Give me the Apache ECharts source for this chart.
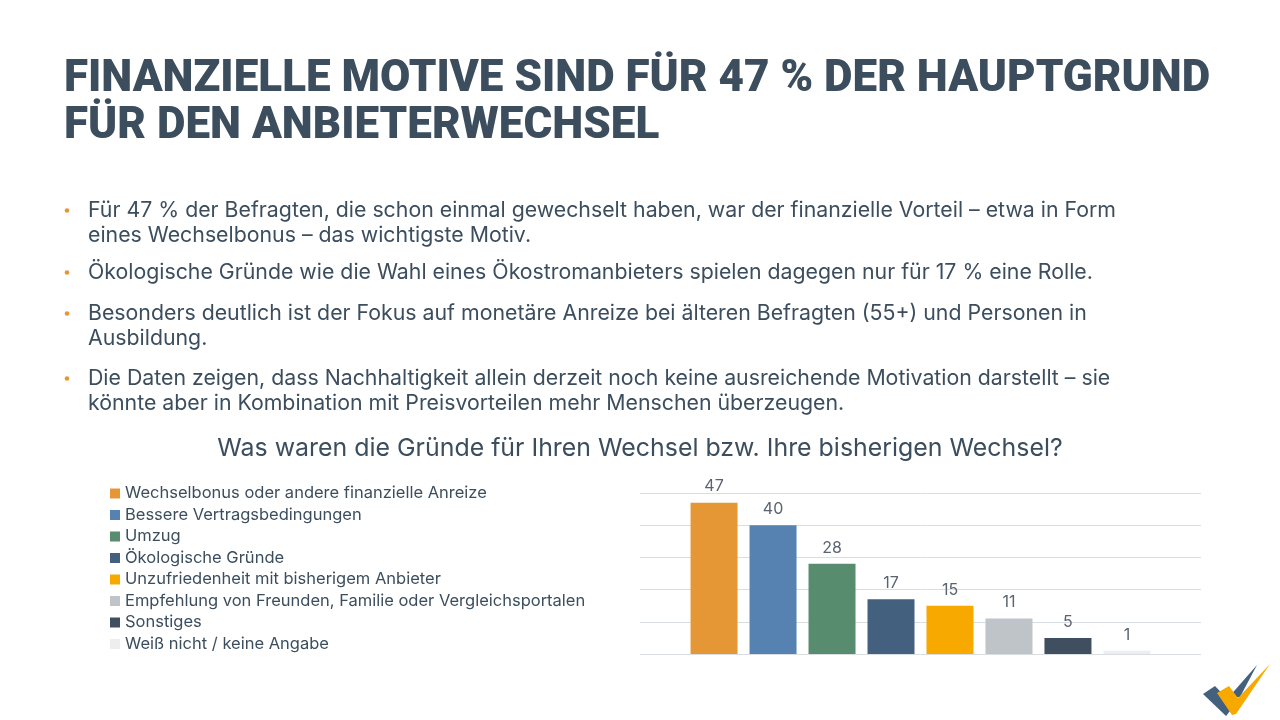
<!DOCTYPE html>
<html>
<head>
<meta charset="utf-8">
<script src="https://cdn.jsdelivr.net/npm/echarts@6/dist/echarts.min.js"></script>
<style>
  html, body { margin: 0; padding: 0; background: #fff; }
  #chart { width: 1280px; height: 720px; }
</style>
</head>
<body>
<div id="chart"></div>
<script>
// reasons for switching provider (share in %)
const reasons = [
  'Wechselbonus oder andere finanzielle Anreize',
  'Bessere Vertragsbedingungen',
  'Umzug',
  'Ökologische Gründe',
  'Unzufriedenheit mit bisherigem Anbieter',
  'Empfehlung von Freunden, Familie oder Vergleichsportalen',
  'Sonstiges',
  'Weiß nicht / keine Angabe'
];
const shares = [47, 40, 28, 17, 15, 11, 5, 1];

const titleText = 'FINANZIELLE MOTIVE SIND FÜR 47 % DER HAUPTGRUND\nFÜR DEN ANBIETERWECHSEL';
const question = 'Was waren die Gründe für Ihren Wechsel bzw. Ihre bisherigen Wechsel?';
const bullets = [
  'Für 47 % der Befragten, die schon einmal gewechselt haben, war der finanzielle Vorteil – etwa in Form\neines Wechselbonus – das wichtigste Motiv.',
  'Ökologische Gründe wie die Wahl eines Ökostromanbieters spielen dagegen nur für 17 % eine Rolle.',
  'Besonders deutlich ist der Fokus auf monetäre Anreize bei älteren Befragten (55+) und Personen in\nAusbildung.',
  'Die Daten zeigen, dass Nachhaltigkeit allein derzeit noch keine ausreichende Motivation darstellt – sie\nkönnte aber in Kombination mit Preisvorteilen mehr Menschen überzeugen.'
];

const palette = ['#E59735', '#5682B1', '#578D6E', '#44607F', '#F7A900', '#BFC4C9', '#3F4F5F', '#EEEEEE'];
const ink = '#3C4E5E';
const font = 'Inter';

const chart = echarts.init(document.getElementById('chart'));

// bullet list as graphic text
const bulletTops = [198, 260, 301, 366];
const bulletGraphics = [];
bullets.forEach((txt, i) => {
  bulletGraphics.push({
    type: 'circle',
    shape: { cx: 67, cy: bulletTops[i] + 12.5, r: 2.3 },
    style: { fill: '#E59735' }
  });
  bulletGraphics.push({
    type: 'text',
    left: 88,
    top: bulletTops[i],
    style: {
      text: txt,
      font: '21.3px ' + font,
      lineHeight: 25,
      fill: ink
    }
  });
});

// small check-mark logo bottom right
const logo = [
  { type: 'polygon', shape: { points: [[1203, 694], [1215, 686], [1234, 706], [1226, 716]] }, style: { fill: '#44607F' } },
  { type: 'polygon', shape: { points: [[1228, 698], [1257, 665], [1240, 697]] }, style: { fill: '#44607F' } },
  { type: 'polygon', shape: { points: [[1217, 693], [1229, 686], [1238, 698], [1270, 664], [1236, 714], [1232, 715]] }, style: { fill: '#F7A900' } }
];

const option = {
  animation: false,
  backgroundColor: '#fff',
  title: [
    {
      text: titleText,
      left: 64,
      top: 56,
      padding: 0,
      textStyle: { fontFamily: 'Roboto', fontSize: 44, fontWeight: 900, color: ink, lineHeight: 47 }
    },
    {
      text: question,
      left: 'center',
      top: 436,
      padding: 0,
      textStyle: { fontFamily: font, fontSize: 24.9, fontWeight: 'normal', color: ink }
    }
  ],
  legend: {
    orient: 'vertical',
    left: 110,
    top: 485,
    padding: 0,
    icon: 'rect',
    itemWidth: 10,
    itemHeight: 10,
    itemGap: 4.5,
    data: reasons,
    textStyle: { fontFamily: font, fontSize: 16.5, color: ink }
  },
  grid: { left: 640, right: 79, top: 493, bottom: 66 },
  xAxis: {
    type: 'category',
    data: [''],
    axisLine: { show: false },
    axisTick: { show: false },
    axisLabel: { show: false }
  },
  yAxis: {
    type: 'value',
    min: 0,
    max: 50,
    interval: 10,
    axisLabel: { show: false },
    splitLine: { lineStyle: { color: '#D9DEE2', width: 1 } }
  },
  series: reasons.map((name, i) => ({
    type: 'bar',
    name: name,
    data: [shares[i]],
    barWidth: 47,
    barGap: '25.5%',
    itemStyle: { color: palette[i] },
    label: {
      show: true,
      position: 'top',
      distance: 8,
      fontFamily: font,
      fontSize: 16,
      color: '#5A6470'
    }
  })),
  graphic: bulletGraphics.concat(logo)
};

chart.setOption(option);
</script>
</body>
</html>
